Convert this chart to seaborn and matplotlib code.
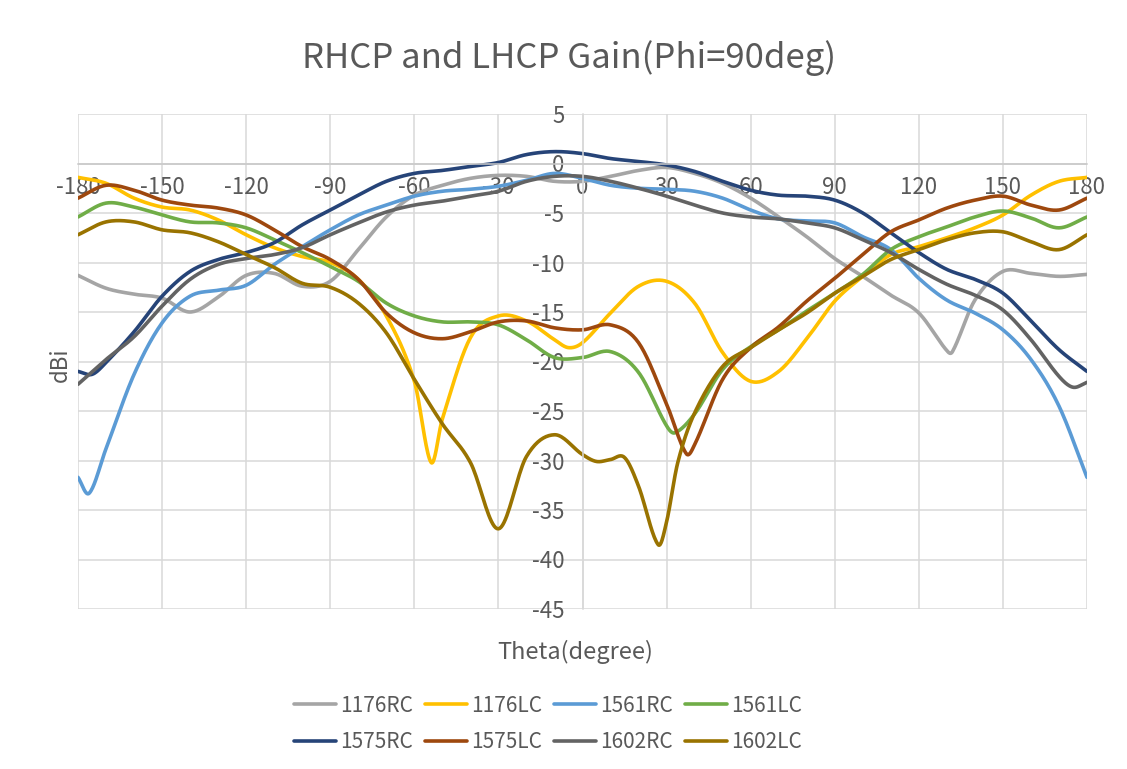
import numpy as np
import pandas as pd
import matplotlib
matplotlib.use("Agg")
import matplotlib.pyplot as plt
import seaborn as sns

# theta grid (deg) and gain values (dBi)
THETA = list(range(-180, 181, 10))

G_1176RC = [-11.3, -12.6, -13.2, -13.6, -15.0, -13.5, -11.3, -11.1, -12.4, -11.9,
            -8.7, -5.4, -3.2, -2.2, -1.5, -1.2, -1.3, -1.8, -1.8, -1.3,
            -0.7, -0.4, -1.0, -2.0, -3.5, -5.4, -7.4, -9.6, -11.4, -13.3,
            -15.1, -18.9, -13.8, -10.9, -11.1, -11.4, -11.2]
G_1176LC = [-1.4, -2.0, -3.5, -4.4, -4.7, -5.7, -7.2, -8.5, -9.4, -10.0,
            -11.7, -15.4, -22.0, -25.8, -17.6, -15.4, -15.9, -17.8, -18.1, -15.1,
            -12.4, -11.9, -14.1, -19.1, -22.0, -21.0, -17.7, -13.9, -11.4, -9.2,
            -8.4, -7.5, -6.5, -5.2, -3.2, -1.8, -1.4]
G_1561RC = [-31.7, -28.8, -21.3, -16.1, -13.4, -12.8, -12.3, -10.2, -8.4, -6.7,
            -5.2, -4.2, -3.3, -2.8, -2.6, -2.3, -1.7, -1.0, -1.5, -2.2,
            -2.5, -2.6, -2.8, -3.5, -4.7, -5.6, -5.8, -6.0, -7.4, -8.7,
            -11.6, -13.8, -15.1, -16.8, -19.8, -24.5, -31.7]
G_1561LC = [-5.4, -4.0, -4.4, -5.2, -5.9, -6.0, -6.5, -7.7, -9.0, -10.4,
            -11.9, -14.1, -15.4, -16.0, -16.0, -16.3, -17.8, -19.6, -19.6, -19.0,
            -21.1, -26.5, -25.3, -20.8, -18.5, -16.8, -14.9, -13.1, -11.2, -8.7,
            -7.4, -6.4, -5.4, -4.8, -5.5, -6.5, -5.4]
G_1575RC = [-21.0, -20.1, -17.0, -13.4, -10.9, -9.7, -9.0, -8.0, -6.2, -4.7,
            -3.2, -1.8, -1.0, -0.7, -0.3, 0.1, 0.9, 1.2, 1.0, 0.5,
            0.2, -0.15, -0.8, -1.8, -2.7, -3.2, -3.3, -3.7, -5.0, -7.0,
            -9.0, -10.7, -11.7, -13.1, -15.9, -18.8, -21.0]
G_1575LC = [-3.5, -2.2, -2.7, -3.7, -4.2, -4.5, -5.2, -6.7, -8.4, -9.7,
            -11.7, -15.1, -17.1, -17.7, -17.0, -16.0, -15.9, -16.6, -16.8, -16.3,
            -18.1, -24.3, -28.4, -21.8, -18.6, -16.5, -13.9, -11.6, -9.2, -6.9,
            -5.7, -4.5, -3.7, -3.3, -4.2, -4.7, -3.5]
G_1602RC = [-22.3, -19.8, -17.5, -14.4, -11.7, -10.2, -9.6, -9.2, -8.5, -7.2,
            -6.0, -4.9, -4.2, -3.8, -3.3, -2.8, -1.8, -1.3, -1.3, -1.8,
            -2.5, -3.3, -4.2, -5.0, -5.4, -5.6, -6.0, -6.5, -7.7, -9.0,
            -10.7, -12.2, -13.3, -14.8, -17.8, -21.5, -22.1]
G_1602LC = [-7.2, -5.9, -5.9, -6.7, -7.0, -7.9, -9.2, -10.5, -12.1, -12.5,
            -14.1, -17.1, -21.8, -26.3, -30.2, -36.9, -29.6, -27.4, -29.4, -29.9,
            -32.6, -36.2, -25.2, -20.5, -18.6, -16.8, -15.1, -13.1, -11.4, -9.7,
            -8.7, -7.7, -7.0, -6.9, -7.9, -8.7, -7.2]

# extra readings at sharp dips between the 10 deg grid points (theta, dBi)
EXTRA_1176RC = [(132, -19.0)]
EXTRA_1176LC = [(-54, -30.2), (-5, -18.6)]
EXTRA_1561RC = [(-176, -33.3)]
EXTRA_1561LC = [(33, -27.2)]
EXTRA_1575RC = [(-175, -21.3)]
EXTRA_1575LC = [(37, -29.3)]
EXTRA_1602RC = [(175, -22.6)]
EXTRA_1602LC = [(5, -30.1), (15, -29.7), (27, -38.5), (34, -30.2)]

NAMES = ["1176RC", "1176LC", "1561RC", "1561LC", "1575RC", "1575LC", "1602RC", "1602LC"]
COLORS = ["#A5A5A5", "#FFC000", "#5B9BD5", "#70AD47", "#264478", "#9E480E", "#636363", "#997300"]

SERIES = [G_1176RC, G_1176LC, G_1561RC, G_1561LC, G_1575RC, G_1575LC, G_1602RC, G_1602LC]
EXTRAS = [EXTRA_1176RC, EXTRA_1176LC, EXTRA_1561RC, EXTRA_1561LC,
          EXTRA_1575RC, EXTRA_1575LC, EXTRA_1602RC, EXTRA_1602LC]


# smoothed line drawing (like Excel "smoothed line"): cardinal cubic through the points
def smooth(xs, ys, steps=20):
    xs = np.asarray(xs, float)
    ys = np.asarray(ys, float)
    n = len(xs)
    m = np.zeros(n)
    for i in range(n):
        a = max(i - 1, 0)
        b = min(i + 1, n - 1)
        m[i] = (ys[b] - ys[a]) / (xs[b] - xs[a])
    out_x, out_y = [], []
    for i in range(n - 1):
        h = xs[i + 1] - xs[i]
        t = np.linspace(0, 1, steps, endpoint=False)
        h00 = 2 * t**3 - 3 * t**2 + 1
        h10 = t**3 - 2 * t**2 + t
        h01 = -2 * t**3 + 3 * t**2
        h11 = t**3 - t**2
        out_x.extend(xs[i] + t * h)
        out_y.extend(h00 * ys[i] + h10 * h * m[i] + h01 * ys[i + 1] + h11 * h * m[i + 1])
    out_x.append(xs[-1])
    out_y.append(ys[-1])
    return out_x, out_y


rows = []
for name, vals, extra in zip(NAMES, SERIES, EXTRAS):
    pts = sorted(list(zip(THETA, vals)) + list(extra))
    sx, sy = smooth([p[0] for p in pts], [p[1] for p in pts])
    rows.append(pd.DataFrame({"theta": sx, "gain": sy, "series": name}))
df = pd.concat(rows, ignore_index=True)

sns.set_theme(style="white")
plt.rcParams["font.family"] = ["Noto Sans CJK SC", "DejaVu Sans"]
plt.rcParams["font.weight"] = "light"
plt.rcParams["axes.unicode_minus"] = False
TXT = "#595959"
GRID = "#D9D9D9"

fig = plt.figure(figsize=(11.27, 7.69), dpi=100)
ax = fig.add_axes([78 / 1127, 1 - 609 / 769, 1009 / 1127, 495 / 769])

sns.lineplot(data=df, x="theta", y="gain", hue="series", hue_order=NAMES,
             palette=COLORS, sort=False, estimator=None, linewidth=2.6,
             legend=False, ax=ax)

ax.set_xlim(-180, 180)
ax.set_ylim(-45, 5)
ax.set_xticks(range(-180, 181, 30))
ax.set_yticks(range(-45, 6, 5))
ax.grid(True, color=GRID, linewidth=1.1)
ax.set_axisbelow(True)
for s in ["top", "right"]:
    ax.spines[s].set_visible(False)
ax.spines["left"].set_position(("data", 0))
ax.spines["bottom"].set_position(("data", 0))
ax.spines["left"].set_color(GRID)
ax.spines["bottom"].set_color("#C8C8C8")
ax.spines["left"].set_linewidth(1.1)
ax.spines["bottom"].set_linewidth(1.1)
ax.tick_params(axis="x", length=0, pad=9, labelsize=16, labelcolor=TXT)
ax.tick_params(axis="y", length=0, pad=13, labelsize=16, labelcolor=TXT)
ax.set_xlabel("")
ax.set_ylabel("")

fig.text(569 / 1127, 1 - 58 / 769, "RHCP and LHCP Gain(Phi=90deg)",
         ha="center", va="center", fontsize=25, color=TXT)
fig.text(60 / 1127, 1 - 365 / 769, "dBi", rotation=90,
         ha="center", va="center", fontsize=16, color=TXT)
fig.text(575 / 1127, 1 - 652 / 769, "Theta(degree)",
         ha="center", va="center", fontsize=17, color=TXT)

lines = ax.get_lines()
order = [0, 4, 1, 5, 2, 6, 3, 7]
handles = [lines[i] for i in order]
labels = [NAMES[i] for i in order]
fig.legend(handles, labels, ncol=4, loc="center", bbox_to_anchor=(548 / 1127, 1 - 724 / 769),
           frameon=False, fontsize=15, handlelength=2.0, handletextpad=0.2,
           columnspacing=0.6, labelspacing=0.7, labelcolor=TXT)

fig.savefig("out.png", dpi=100)
